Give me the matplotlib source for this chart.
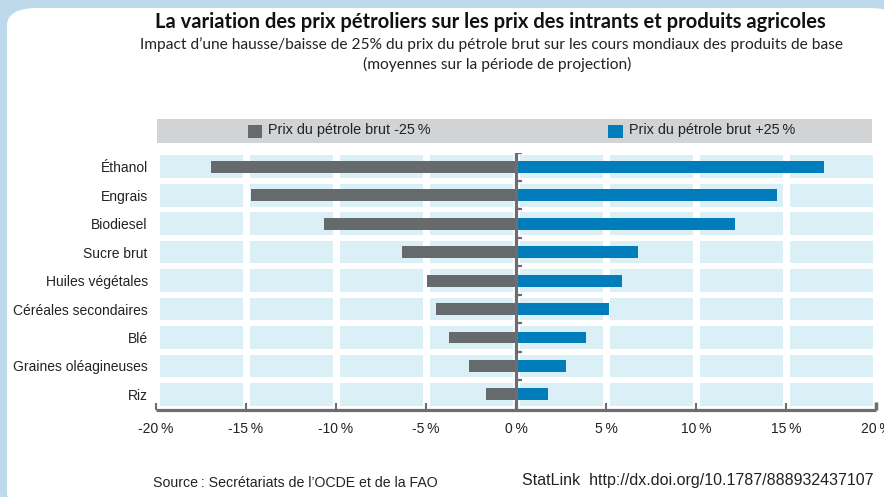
import matplotlib
matplotlib.use("Agg")
import matplotlib.pyplot as plt
from matplotlib.patches import Rectangle, FancyBboxPatch

categories = ["Éthanol", "Engrais", "Biodiesel", "Sucre brut", "Huiles végétales",
              "Céréales secondaires", "Blé", "Graines oléagineuses", "Riz"]
minus25 = [-16.9, -14.7, -10.6, -6.3, -4.9, -4.4, -3.7, -2.55, -1.6]
plus25 = [17.0, 14.4, 12.05, 6.7, 5.8, 5.05, 3.8, 2.7, 1.7]
xticks = [-20, -15, -10, -5, 0, 5, 10, 15, 20]
xticklabels = ["-20\u2009%", "-15\u2009%", "-10\u2009%", "-5\u2009%", "0\u2009%",
               "5\u2009%", "10\u2009%", "15\u2009%", "20\u2009%"]
legend_labels = ["Prix du pétrole brut -25\u2009%", "Prix du pétrole brut +25\u2009%"]

title = "La variation des prix pétroliers sur les prix des intrants et produits agricoles"
subtitle1 = "Impact d\u2019une hausse/baisse de 25% du prix du pétrole brut sur les cours mondiaux des produits de base"
subtitle2 = "(moyennes sur la période de projection)"
source = "Source\u2009: Secrétariats de l\u2019OCDE et de la FAO"
statlink = "StatLink  http://dx.doi.org/10.1787/888932437107"

GRAY = "#656a6d"
BLUE = "#007dba"
CELL = "#daeff6"
AXIS = "#6d6e71"
BAND = "#d1d3d4"
FRAME = "#bdd9eb"

W, H = 884, 497
fig = plt.figure(figsize=(W / 100, H / 100), dpi=100)
fig.patch.set_facecolor(FRAME)

def fx(px):
    return px / W

def fy(py):
    return 1 - py / H

# white rounded panel
panel = FancyBboxPatch((fx(7), fy(510)), fx(900) - fx(7), fy(8) - fy(510),
                       boxstyle="round,pad=0,rounding_size=0.035",
                       transform=fig.transFigure, facecolor="white",
                       edgecolor="none", zorder=-10)
fig.patches.append(panel)

# titles
fig.text(fx(490), fy(22), title, ha="center", va="center", fontsize=14.5,
         fontweight="bold", family="Lato", color="#111111")
fig.text(fx(492), fy(45), subtitle1, ha="center", va="center", fontsize=11.2,
         family="Lato", color="#222222")
fig.text(fx(497), fy(64), subtitle2, ha="center", va="center", fontsize=11.2,
         family="Lato", color="#222222")

# legend band
fig.patches.append(Rectangle((fx(157), fy(143)), fx(872) - fx(157), fy(119) - fy(143),
                             transform=fig.transFigure, facecolor=BAND,
                             edgecolor="none", zorder=-5))
fig.patches.append(Rectangle((fx(248), fy(138)), fx(14), fy(0) - fy(13),
                             transform=fig.transFigure, facecolor=GRAY,
                             edgecolor="none", zorder=-4))
fig.patches.append(Rectangle((fx(608), fy(138)), fx(15), fy(0) - fy(13),
                             transform=fig.transFigure, facecolor=BLUE,
                             edgecolor="none", zorder=-4))
fig.text(fx(268), fy(130), legend_labels[0], ha="left", va="center", fontsize=10.4,
         family="Liberation Sans", color="#222222")
fig.text(fx(629), fy(130), legend_labels[1], ha="left", va="center", fontsize=10.4,
         family="Liberation Sans", color="#222222")

# axes
left, right, top, bottom = 156, 876, 152.5, 409.5
ax = fig.add_axes([fx(left), fy(bottom), fx(right - left), (bottom - top) / H])
ax.set_facecolor("none")
n = len(categories)
ax.set_xlim(-20, 20)
ax.set_ylim(n - 0.5 + 0.03, -0.5)

ys = list(range(n))
# background cells
for i in ys:
    for a in xticks[:-1]:
        ax.add_patch(Rectangle((a + 0.2, i - 0.4), 4.63, 0.8, facecolor=CELL,
                               edgecolor="none", zorder=1))

bh = 0.42
ax.barh(ys, minus25, height=bh, color=GRAY, zorder=3, left=-0.05)
ax.barh(ys, plus25, height=bh, color=BLUE, zorder=3, left=0.1)

# zero axis with ticks at row boundaries
ax.axvline(-0.02, color=AXIS, lw=2.3, zorder=4)
for b in [k - 0.5 for k in range(0, n)]:
    ax.plot([0, 0.33], [b, b], color=AXIS, lw=1.6, zorder=4, solid_capstyle="butt")

for s in ["top", "right", "left"]:
    ax.spines[s].set_visible(False)
ax.spines["bottom"].set_color(AXIS)
ax.spines["bottom"].set_linewidth(2.3)
ax.spines["bottom"].set_capstyle("butt")

ax.set_xticks(xticks)
ax.set_xticklabels(xticklabels, fontsize=10, family="Liberation Sans", color="#222222")
ax.tick_params(axis="x", direction="in", length=5, width=1.5, color=AXIS, pad=9)
ax.set_yticks(ys)
ax.set_yticklabels(categories, fontsize=10, family="Liberation Sans", color="#222222")
ax.tick_params(axis="y", length=0, pad=6)

# right end cap
ax.plot([20, 20], [n - 0.5 + 0.03, n - 0.5 - 0.25], color=AXIS, lw=2.5, zorder=5,
        clip_on=False, solid_capstyle="butt")

# footer
fig.text(fx(153), fy(483), source, ha="left", va="center", fontsize=10.2,
         family="Liberation Sans", color="#222222")
fig.text(fx(874), fy(481), statlink, ha="right", va="center", fontsize=11.5,
         family="Liberation Sans", color="#222222")

fig.savefig("out.png", dpi=100, facecolor=fig.get_facecolor())
